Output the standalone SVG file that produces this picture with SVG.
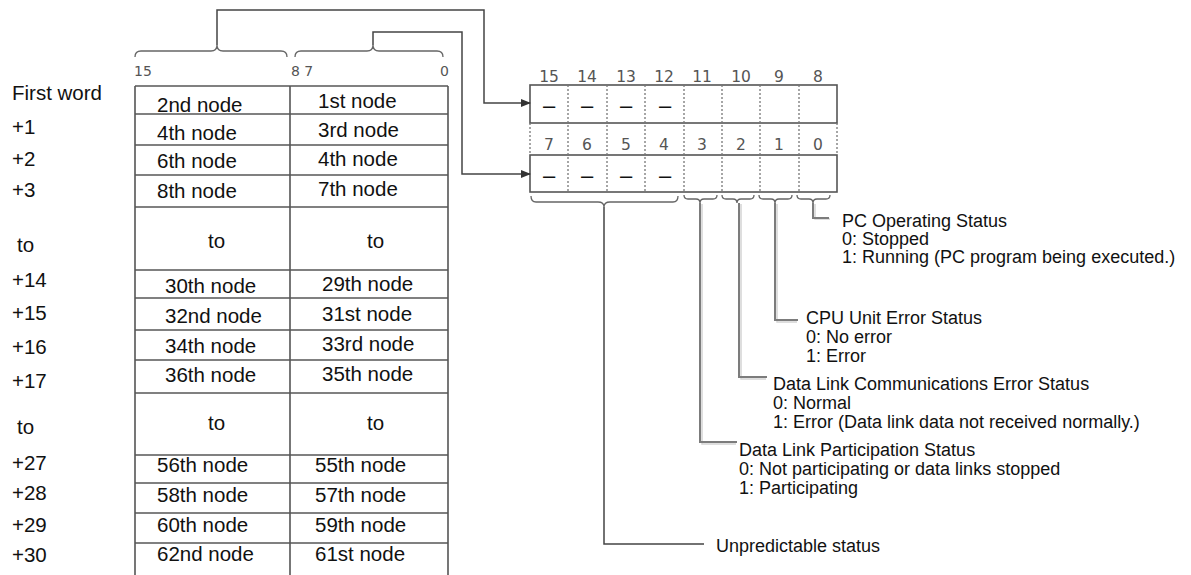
<svg xmlns="http://www.w3.org/2000/svg" width="1191" height="575" viewBox="0 0 1191 575">
<defs>
<marker id="arr" markerWidth="10" markerHeight="8" refX="9" refY="4" orient="auto" markerUnits="userSpaceOnUse">
<path d="M0,0 L10,4 L0,8 Z" fill="#333"/>
</marker>
<style>
.lbl{font-family:"Liberation Sans",Arial,sans-serif;font-size:20.5px;fill:#111}
.cell{font-family:"Liberation Sans",Arial,sans-serif;font-size:20.5px;fill:#111}
.txt{font-family:"Liberation Sans",Arial,sans-serif;font-size:18px;fill:#111}
.bitn{font-family:"DejaVu Sans",sans-serif;font-size:15.5px;fill:#555;text-anchor:middle}
.bitl{font-family:"DejaVu Sans",sans-serif;font-size:14px;fill:#555}
.dash{font-family:"Liberation Sans",Arial,sans-serif;font-size:22px;fill:#111;text-anchor:middle}
.hl{stroke:#808080;stroke-width:2;fill:none}
.vl{stroke:#555;stroke-width:1.6;fill:none}
.frame{stroke:#555;stroke-width:1.6;fill:#fff}
.dsh{stroke:#777;stroke-width:1.3;stroke-dasharray:2,2;fill:none}
.brace{stroke:#666;stroke-width:1.3;fill:none}
.conn{stroke:#444;stroke-width:1.5;fill:none}
.lead{stroke:#7c7c7c;stroke-width:2;fill:none}
.leadsh{stroke:#d4d4d4;stroke-width:1.5;fill:none}
</style>
</defs>
<rect width="1191" height="575" fill="#fff"/>

<g id="word-labels">
<text class="lbl" x="12" y="100">First word</text>
<text class="lbl" x="12" y="134">+1</text>
<text class="lbl" x="12" y="166">+2</text>
<text class="lbl" x="12" y="197">+3</text>
<text class="lbl" x="17" y="252">to</text>
<text class="lbl" x="12" y="287">+14</text>
<text class="lbl" x="12" y="320">+15</text>
<text class="lbl" x="12" y="354">+16</text>
<text class="lbl" x="12" y="388">+17</text>
<text class="lbl" x="17" y="434">to</text>
<text class="lbl" x="12" y="470">+27</text>
<text class="lbl" x="12" y="500">+28</text>
<text class="lbl" x="12" y="532">+29</text>
<text class="lbl" x="12" y="562">+30</text>
</g>

<g id="word-table">
<text class="bitl" x="134" y="76">15</text>
<text class="bitl" x="291" y="76">8 7</text>
<text class="bitl" x="440" y="76">0</text>
<path class="brace" d="M135,57 Q135,51 141,51 L211,51 Q217,51 217,45 Q217,51 223,51 L281,51 Q287,51 287,57"/>
<path class="brace" d="M295,57 Q295,51 301,51 L367,51 Q373,51 373,45 Q373,51 379,51 L437,51 Q443,51 443,57"/>
<path class="hl" d="M135,86H448 M135,114H448 M135,145H448 M135,175H448 M135,207H448 M135,270H448 M135,298H448 M135,330H448 M135,360H448 M135,393H448 M135,455H448 M135,483H448 M135,513H448 M135,543H448"/>
<path class="vl" d="M135,86V575 M290,86V575 M448,86V575"/>
<text class="cell" x="157" y="112">2nd node</text><text class="cell" x="318" y="108">1st node</text>
<text class="cell" x="157" y="140">4th node</text><text class="cell" x="318" y="137">3rd node</text>
<text class="cell" x="157" y="168">6th node</text><text class="cell" x="318" y="166">4th node</text>
<text class="cell" x="157" y="198">8th node</text><text class="cell" x="318" y="196">7th node</text>
<text class="cell" x="208" y="248">to</text><text class="cell" x="367" y="248">to</text>
<text class="cell" x="165" y="293">30th node</text><text class="cell" x="322" y="291">29th node</text>
<text class="cell" x="165" y="323">32nd node</text><text class="cell" x="322" y="321">31st node</text>
<text class="cell" x="165" y="353">34th node</text><text class="cell" x="322" y="351">33rd node</text>
<text class="cell" x="165" y="382">36th node</text><text class="cell" x="322" y="381">35th node</text>
<text class="cell" x="208" y="430">to</text><text class="cell" x="367" y="430">to</text>
<text class="cell" x="157" y="472">56th node</text><text class="cell" x="315" y="472">55th node</text>
<text class="cell" x="157" y="502">58th node</text><text class="cell" x="315" y="502">57th node</text>
<text class="cell" x="157" y="532">60th node</text><text class="cell" x="315" y="532">59th node</text>
<text class="cell" x="157" y="561">62nd node</text><text class="cell" x="315" y="561">61st node</text>
</g>

<g id="bit-table">
<text class="bitn" x="549" y="82">15</text>
<text class="bitn" x="587" y="82">14</text>
<text class="bitn" x="626" y="82">13</text>
<text class="bitn" x="664" y="82">12</text>
<text class="bitn" x="702" y="82">11</text>
<text class="bitn" x="741" y="82">10</text>
<text class="bitn" x="779" y="82">9</text>
<text class="bitn" x="818" y="82">8</text>
<rect class="frame" x="530" y="85" width="307" height="38"/>
<rect class="frame" x="530" y="155" width="307" height="37"/>
<path class="dsh" d="M568,85V192 M607,85V192 M645,85V192 M684,85V192 M722,85V192 M760,85V192 M799,85V192 M530,123V155 M837,123V155"/>
<text class="bitn" x="549" y="150">7</text>
<text class="bitn" x="587" y="150">6</text>
<text class="bitn" x="626" y="150">5</text>
<text class="bitn" x="664" y="150">4</text>
<text class="bitn" x="702" y="150">3</text>
<text class="bitn" x="741" y="150">2</text>
<text class="bitn" x="779" y="150">1</text>
<text class="bitn" x="818" y="150">0</text>
<text class="dash" x="549" y="113">–</text>
<text class="dash" x="587" y="113">–</text>
<text class="dash" x="626" y="113">–</text>
<text class="dash" x="665" y="113">–</text>
<text class="dash" x="549" y="183">–</text>
<text class="dash" x="587" y="183">–</text>
<text class="dash" x="626" y="183">–</text>
<text class="dash" x="665" y="183">–</text>
<path class="brace" d="M531,196 Q531,202 536,202 L598,202 Q604,202 604,207 Q604,202 610,202 L673,202 Q678,202 678,196"/>
<path class="brace" d="M684,195 Q684,199 688,199 L696,199 Q700,199 700,203 Q700,199 704,199 L713,199 Q717,199 717,195"/>
<path class="brace" d="M722,195 Q722,199 726,199 L733,199 Q737,199 737,203 Q737,199 741,199 L750,199 Q754,199 754,195"/>
<path class="brace" d="M759,195 Q759,199 763,199 L771,199 Q775,199 775,203 Q775,199 779,199 L788,199 Q792,199 792,195"/>
<path class="brace" d="M797,195 Q797,199 801,199 L809,199 Q813,199 813,203 Q813,199 817,199 L826,199 Q830,199 830,195"/>
</g>

<g id="label-pc">
<text class="txt" x="842" y="227">PC Operating Status</text>
<text class="txt" x="842" y="245">0: Stopped</text>
<text class="txt" x="842" y="263">1: Running (PC program being executed.)</text>
</g>
<g id="label-cpu">
<text class="txt" x="806" y="324">CPU Unit Error Status</text>
<text class="txt" x="806" y="343">0: No error</text>
<text class="txt" x="806" y="362">1: Error</text>
</g>
<g id="label-dlc">
<text class="txt" x="773" y="390">Data Link Communications Error Status</text>
<text class="txt" x="773" y="409">0: Normal</text>
<text class="txt" x="773" y="428">1: Error (Data link data not received normally.)</text>
</g>
<g id="label-dlp">
<text class="txt" x="739" y="456">Data Link Participation Status</text>
<text class="txt" x="739" y="475">0: Not participating or data links stopped</text>
<text class="txt" x="739" y="494">1: Participating</text>
</g>
<g id="label-unpred">
<text class="txt" x="716" y="552">Unpredictable status</text>
</g>

<g id="connectors">
<path class="conn" d="M217,45 V10 H484 V103 H530" marker-end="url(#arr)"/>
<path class="conn" d="M373,45 V32 H462 V174 H530" marker-end="url(#arr)"/>
<path class="leadsh" d="M815,204 V219 H830 M777,204 V322 H797 M741,204 V379 H766 M702,204 V444 H736"/>
<path class="lead" d="M813,203 V218 H829 M775,203 V320 H798 M739,203 V377 H767 M700,203 V442 H737"/>
<path class="conn" d="M604,207 V544 H704"/>
</g>
</svg>
